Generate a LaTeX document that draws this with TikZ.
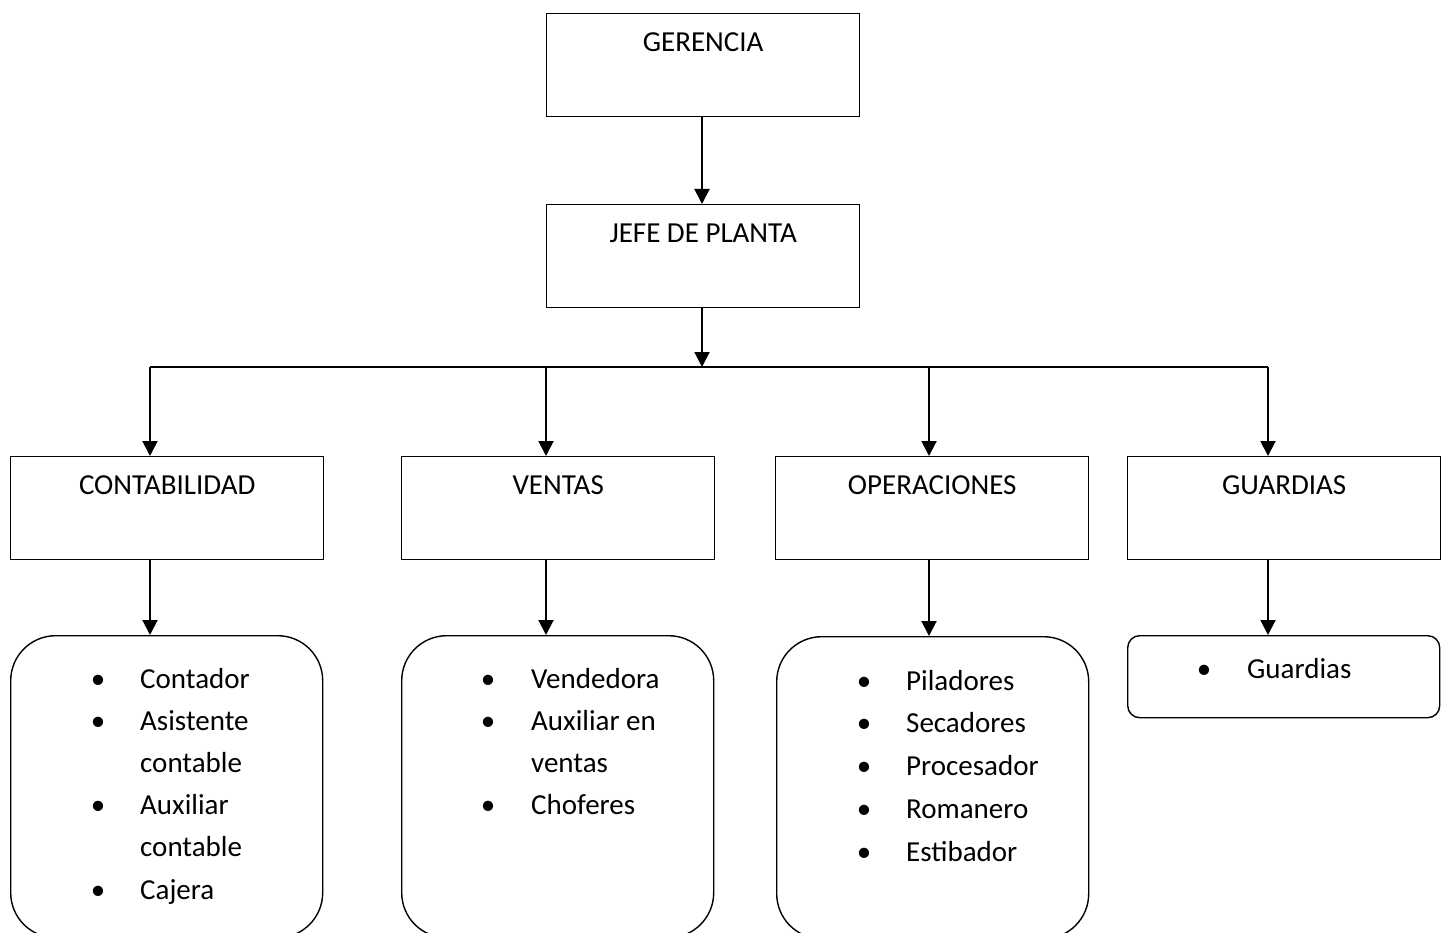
\documentclass[tikz,border=0pt]{standalone}
\usepackage{fontspec}
\setmainfont{Carlito}
\usepackage{tikz}
\usetikzlibrary{calc,positioning,arrows.meta}
\newcommand{\itm}{\makebox[0pt]{\textbullet}}

\begin{document}
\begin{tikzpicture}[x=1pt, y=-1pt,
  box/.style={draw, line width=1.4pt, inner sep=0pt, minimum width=313pt,
    text height=38pt, text depth=65pt, anchor=north west,
    font=\fontsize{29}{34}\selectfont},
  lbox/.style={draw, line width=1.4pt, rounded corners=45pt, inner sep=0pt,
    minimum width=312pt, minimum height=302pt, anchor=north west},
  lst/.style={inner sep=0pt, anchor=base west, align=left,
    font=\fontsize{29}{42.2}\selectfont},
  arr/.style={-{Triangle[length=15pt, width=15pt]}, line width=2pt}
]
  \useasboundingbox (0,0) rectangle (1445,933);
  % Top boxes
  \node[box] (ger) at (546,13) {GERENCIA};
  \node[box] (jefe) at (546,204) {JEFE DE PLANTA};
  % Area boxes
  \node[box] (cont) at (10,456) {CONTABILIDAD};
  \node[box] (vent) at (401,456) {VENTAS};
  \node[box] (oper) at (775,456) {OPERACIONES};
  \node[box] (guar) at (1127,456) {GUARDIAS};
  % Staff boxes
  \node[lbox] (lcont) at (10,635) {};
  \node[lbox] (lvent) at (401,635) {};
  \node[lbox] (loper) at (776,636) {};
  \node[lbox, rounded corners=12pt, minimum height=82pt] (lguar) at (1127,635) {};
  % Staff lists
  \node[lst] (tcont) at (98,688) {\begin{tabular}[t]{@{}c@{\hspace{42pt}}l@{}}
    \itm & Contador\\ \itm & Asistente\\ & contable\\
    \itm & Auxiliar\\ & contable\\ \itm & Cajera\end{tabular}};
  \node[lst] (tvent) at (488,688) {\begin{tabular}[t]{@{}c@{\hspace{43pt}}l@{}}
    \itm & Vendedora\\ \itm & Auxiliar en\\ & ventas\\
    \itm & Choferes\end{tabular}};
  \node[lst, font=\fontsize{29}{42.8}\selectfont] (toper) at (864,690)
    {\begin{tabular}[t]{@{}c@{\hspace{42pt}}l@{}}
    \itm & Piladores\\ \itm & Secadores\\ \itm & Procesador\\
    \itm & Romanero\\ \itm & Estibador\end{tabular}};
  \node[lst] (tguar) at (1204,678) {\begin{tabular}[t]{@{}c@{\hspace{43pt}}l@{}}
    \itm & Guardias\end{tabular}};
  % Bus line
  \coordinate (b1) at (150,367);
  \coordinate (b2) at (546,367);
  \coordinate (b3) at (929,367);
  \coordinate (b4) at (1268,367);
  \draw[line width=2pt] (b1) -- (b4);
  \draw[arr] (ger.south -| 702,0) -- (jefe.north -| 702,0);
  \draw[arr] (jefe.south -| 702,0) -- (b1 -| 702,0);
  % Arrows down
  \foreach \b/\a/\l in {b1/cont/lcont, b2/vent/lvent, b3/oper/loper, b4/guar/lguar} {
    \draw[arr] (\b) -- (\b |- \a.north);
    \draw[arr] (\b |- \a.south) -- (\b |- \l.north);
  }
\end{tikzpicture}
\end{document}
